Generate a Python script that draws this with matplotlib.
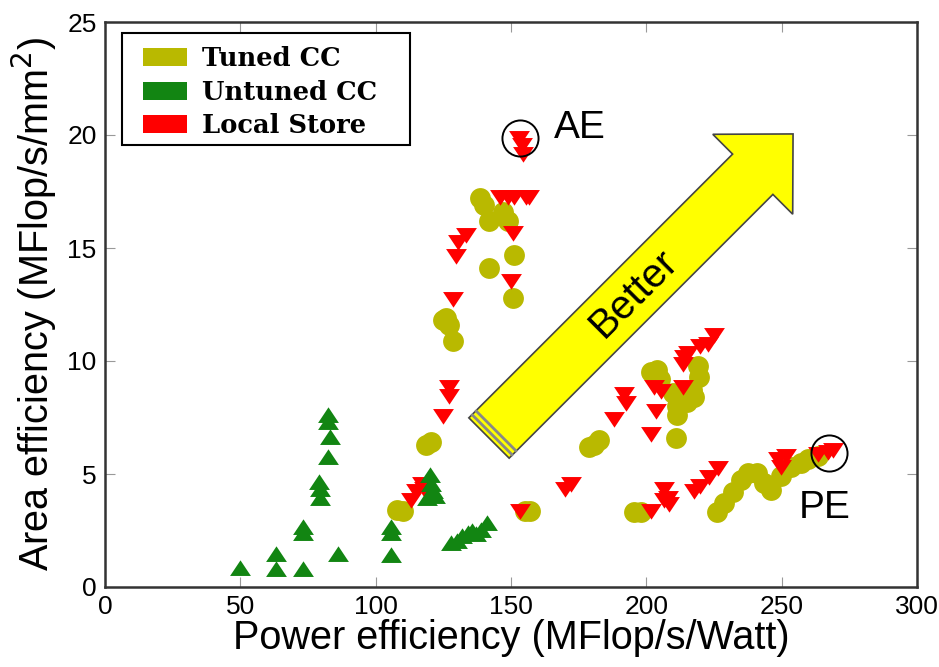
import numpy as np
import matplotlib
matplotlib.use("Agg")
import matplotlib.pyplot as plt
from matplotlib.patches import Patch, Polygon, Rectangle
from matplotlib.path import Path
from matplotlib.transforms import IdentityTransform
from matplotlib.lines import Line2D

# ---------------- data ----------------
untuned_x = [50, 63, 63, 73, 73, 73, 86, 79, 79.5, 79.5, 82.5, 82.5, 83, 82.5,
             105.5, 105.5, 105.5, 120, 120.5, 121, 119, 122,
             128, 130, 132, 134, 135.5, 137, 139, 141]
untuned_y = [0.8, 1.4, 0.75, 0.75, 2.6, 2.35, 1.4, 4.6, 4.3, 3.9, 7.55, 7.25, 6.6, 5.7,
             2.6, 2.35, 1.35, 4.9, 4.5, 4.2, 3.9, 4.0,
             1.9, 2.0, 2.2, 2.35, 2.45, 2.3, 2.5, 2.8]

tuned_x = [108, 110, 118.5, 120.5, 124.7, 127, 128.4, 126,
           138.7, 140, 141.7, 147, 149, 151, 141.7, 150.6,
           155, 157, 178.7, 180.6, 182.5, 195.5, 198,
           201.6, 204, 205, 210, 211.5, 211.5, 211, 215, 217, 217.6, 219, 219.5,
           226, 228.7, 232, 235, 237.5, 241, 243.4, 246, 249.7, 253.4, 257, 259.7, 263.4]
tuned_y = [3.4, 3.35, 6.3, 6.4, 11.8, 11.6, 10.9, 11.9,
           17.2, 16.9, 16.2, 16.6, 16.2, 14.7, 14.1, 12.8,
           3.35, 3.35, 6.2, 6.3, 6.5, 3.3, 3.3,
           9.5, 9.6, 9.2, 8.6, 8.0, 7.6, 6.6, 8.2, 8.7, 8.4, 9.8, 9.3,
           3.3, 3.7, 4.2, 4.75, 5.05, 5.05, 4.6, 4.3, 4.9, 5.3, 5.5, 5.65, 5.8]

local_x = [153, 154, 154.5, 146, 149, 151, 155.5, 156.5, 150.6, 150,
           129.5, 130.5, 133.5, 128.4, 127, 127, 124.7,
           113, 115, 117, 118, 153.5, 170, 172,
           188, 191.6, 192.4, 201.6, 203.5, 202.7, 205.3, 213.5,
           213.5, 213.8, 215.3, 220, 222.7, 225,
           201.6, 206.4, 208, 208.3, 206.4,
           217.6, 220, 223, 226.4, 248.6, 249.7, 251.6, 263.4, 267, 269]
local_y = [19.9, 19.6, 19.2, 17.3, 17.3, 17.3, 17.3, 17.3, 15.7, 13.6,
           14.7, 15.3, 15.6, 12.8, 8.9, 8.5, 7.6,
           3.9, 4.3, 4.6, 4.4, 3.4, 4.4, 4.6,
           7.5, 8.6, 8.2, 6.8, 7.85, 8.9, 8.7, 8.9,
           9.9, 10.2, 10.4, 10.7, 10.8, 11.2,
           3.4, 4.4, 4.0, 3.7, 3.9,
           4.3, 4.5, 4.9, 5.3, 5.7, 5.35, 5.85, 5.95, 6.0, 6.1]

labels = ["Tuned CC", "Untuned CC", "Local Store"]
colors = ["#b9b900", "#128512", "#ff0000"]

callout_labels = ["AE", "PE"]
callout_x = [153.5, 267.5]
callout_y = [19.85, 5.95]
callout_text_x = [165.7, 256.4]
callout_text_y = [19.85, 3.06]

xticks = [0, 50, 100, 150, 200, 250, 300]
yticks = [0, 5, 10, 15, 20, 25]

# ---------------- figure ----------------
W, H, DPI = 939, 667, 100
fig = plt.figure(figsize=(W / DPI, H / DPI), dpi=DPI)
ax = fig.add_axes([105 / W, 1 - 587 / H, (917 - 105) / W, (587 - 22) / H])

font = "Liberation Sans"

up_tri = Path([(-1, -0.62), (1, -0.62), (0, 0.88), (-1, -0.62)],
              [Path.MOVETO, Path.LINETO, Path.LINETO, Path.CLOSEPOLY])
down_tri = Path([(-1, 0.62), (1, 0.62), (0, -0.88), (-1, 0.62)],
                [Path.MOVETO, Path.LINETO, Path.LINETO, Path.CLOSEPOLY])

ax.plot(tuned_x, tuned_y, ls="none", marker="o", ms=15, color=colors[0],
        mec="none", zorder=3)
ax.plot(local_x, local_y, ls="none", marker=down_tri, ms=15, color=colors[2],
        mec="none", zorder=4)
ax.plot(untuned_x, untuned_y, ls="none", marker=up_tri, ms=15, color=colors[1],
        mec="none", zorder=5)

# callout circles and labels
ax.plot(callout_x, callout_y, ls="none", marker="o", ms=26, mfc="none",
        mec="black", mew=1.4, zorder=6)
for t, tx, ty in zip(callout_labels, callout_text_x, callout_text_y):
    ax.text(tx, ty, t, fontsize=28, family=font, ha="left", va="baseline",
            zorder=7)

ax.set_xlim(0, 300)
ax.set_ylim(0, 25)
ax.set_xticks(xticks)
ax.set_yticks(yticks)
ax.tick_params(direction="in", length=7, width=0.8, color="#999999",
               top=True, right=True, labelsize=19, pad=6)
for lab in ax.get_xticklabels() + ax.get_yticklabels():
    lab.set_family(font)
for s in ax.spines.values():
    s.set_linewidth(1.8)
    s.set_color("#333333")

ax.set_xlabel("Power efficiency (MFlop/s/Watt)", fontsize=28.5, family=font,
              labelpad=0)
ax.set_ylabel("Area efficiency (MFlop/s/mm$^2$)", fontsize=28.5, family=font,
              labelpad=6)

# legend (frameless) with a separate box
box = Rectangle((0.0209, 0.7823), 0.3547, 0.1982, transform=ax.transAxes,
                facecolor="white", edgecolor="black", linewidth=1.5, zorder=9)
ax.add_patch(box)
handles = [Patch(facecolor=c, edgecolor="none") for c in colors]
leg = ax.legend(handles, labels, loc="upper left", bbox_to_anchor=(0.0468, 0.957),
                borderaxespad=0, frameon=False,
                prop={"family": "DejaVu Serif", "weight": "bold", "size": 18.5},
                handlelength=1.7, handleheight=0.7, labelspacing=0.33,
                handletextpad=0.6, borderpad=0.0)
leg.set_zorder(10)

# "Better" arrow (decoration in pixel coords)
def px(p):
    return (p[0], H - p[1])

c0 = np.array([489.0, 438.0])
u = np.array([1.0, -1.0]) / np.sqrt(2)
n = np.array([1.0, 1.0]) / np.sqrt(2)
hw, L, hl, hhw = 28.5, 373.0, 57.0, 56.5
base = c0 + L * u
verts = [c0 - hw * n, base - hw * n, base - hhw * n, base + hl * u,
         base + hhw * n, base + hw * n, c0 + hw * n]
arrow = Polygon([px(v) for v in verts], closed=True, facecolor="#ffff00",
                edgecolor="#444444", linewidth=1.2, transform=IdentityTransform(),
                zorder=8)
fig.add_artist(arrow)
for off in (4.5, 10.0):
    a = c0 + off * u - (hw - 0.5) * n
    b = c0 + off * u + (hw - 0.5) * n
    fig.add_artist(Line2D([px(a)[0], px(b)[0]], [px(a)[1], px(b)[1]],
                          color="#888888", lw=2.0, transform=IdentityTransform(),
                          zorder=9))
tc = c0 + 205 * u
fig.text(tc[0] / W, 1 - tc[1] / H, "Better", rotation=45, fontsize=29,
         family=font, ha="center", va="center", rotation_mode="anchor",
         zorder=10)

fig.savefig("out.png", dpi=DPI)
